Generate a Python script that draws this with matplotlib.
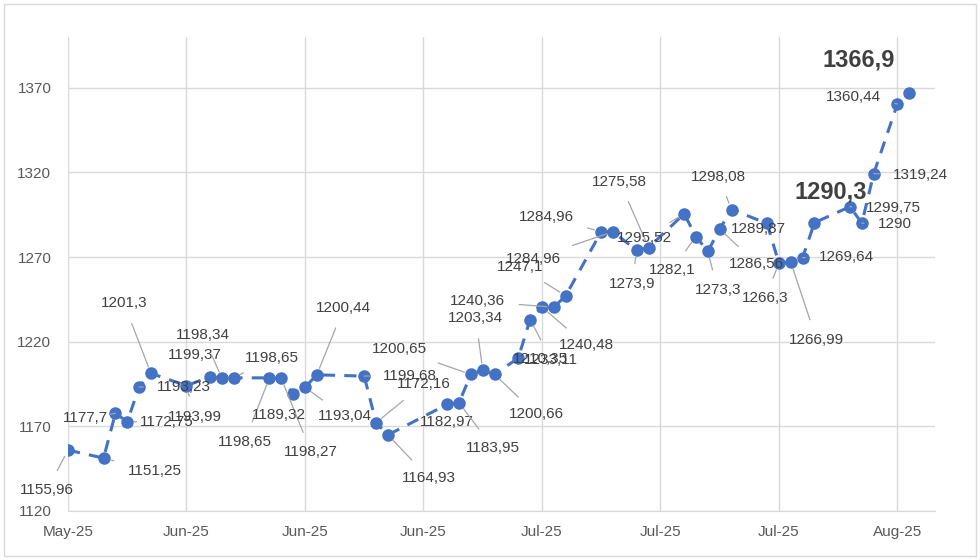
import matplotlib
matplotlib.use("Agg")
import matplotlib.pyplot as plt

# day offsets from the first observation
days = [0, 3, 4, 5, 6, 7, 10, 12, 13, 14, 17, 18, 19, 20, 21, 25, 26, 27,
        32, 33, 34, 35, 36, 38, 39, 40, 41, 42, 45, 46, 48, 49, 52, 53, 54,
        55, 56, 59, 60, 61, 62, 63, 66, 67, 68, 70, 71]
values = [1155.96, 1151.25, 1177.7, 1172.75, 1193.23, 1201.3, 1193.99, 1199.37,
          1198.34, 1198.65, 1198.65, 1198.27, 1189.32, 1193.04, 1200.44, 1199.68,
          1172.16, 1164.93, 1182.97, 1183.95, 1200.65, 1203.34, 1200.66, 1210.35,
          1233.11, 1240.48, 1240.36, 1247.1, 1284.96, 1284.96, 1273.9, 1275.58,
          1295.52, 1282.1, 1273.3, 1286.56, 1298.08, 1289.87, 1266.3, 1266.99,
          1269.64, 1290.3, 1299.75, 1290, 1319.24, 1360.44, 1366.9]
tick_days = [0, 10, 20, 30, 40, 50, 60, 70]
tick_labels = ["May-25", "Jun-25", "Jun-25", "Jun-25", "Jul-25", "Jul-25", "Jul-25", "Aug-25"]
bold_idx = [41, 46]

# label offsets in pixels (dx, dy up)
offsets = [(-21, -40), (51, -13), (-30, -5), (39, 0), (45, 0), (-27, 70), (8, -31),
           (-15, 22), (-19, 43), (38, 20), (-25, -64), (30, -74), (-14, -21), (40, -29),
           (27, 67), (46, 0), (48, 39), (41, -43), (0, -18), (34, -45), (-71, 25),
           (-7, 52), (42, -40), (22, -1), (21, -40), (44, -38), (-76, 6), (-46, 29),
           (-55, 15), (-80, -27), (-5, -34), (-29, 66), (-40, -24), (-24, -33),
           (10, -39), (37, -35), (-13, 33), (-9, -6), (-14, -35), (26, -78), (44, 1),
           (16, 31), (43, -1), (33, -1), (47, -1), (-44, 7), (-51, 33)]

plt.rcParams["font.family"] = "Liberation Sans"
blue = "#4472C4"

fig = plt.figure(figsize=(9.8, 5.6), dpi=100)
ax = fig.add_axes([0.0694, 0.0875, 0.885, 0.8465])
fig.patches.append(plt.Rectangle((0.004, 0.007), 0.992, 0.986, transform=fig.transFigure,
                                 fill=False, edgecolor="#d9d9d9", linewidth=1))

ax.plot(days, values, linestyle=(0, (4, 3)), color=blue, linewidth=2.2,
        marker="o", markersize=8, zorder=3)

for i, (d, v) in enumerate(zip(days, values)):
    txt = f"{v:g}".replace(".", ",")
    dx, dy = offsets[i]
    bold = i in bold_idx
    far = (dx * dx + dy * dy) ** 0.5 > 28
    ax.annotate(txt, (d, v), xytext=(dx, dy), textcoords="offset pixels",
                ha="center", va="center", color="#404040",
                fontsize=17 if bold else 11, fontweight="bold" if bold else "normal",
                arrowprops=dict(arrowstyle="-", color="#a6a6a6", lw=0.9,
                                shrinkA=8, shrinkB=5) if far and not bold else None,
                zorder=4)

ax.set_xlim(0, 73.2)
ax.set_ylim(1120, 1400)
ax.set_xticks(tick_days)
ax.set_xticklabels(tick_labels)
ax.set_yticks([1120, 1170, 1220, 1270, 1320, 1370])
ax.grid(True, color="#d9d9d9", linewidth=1)
ax.set_axisbelow(True)
for s in ["top", "right", "left"]:
    ax.spines[s].set_visible(False)
ax.spines["bottom"].set_color("#d9d9d9")
ax.tick_params(length=0, labelsize=11, colors="#595959", pad=10)
ax.tick_params(axis="y", pad=12)

fig.savefig("out.png")
